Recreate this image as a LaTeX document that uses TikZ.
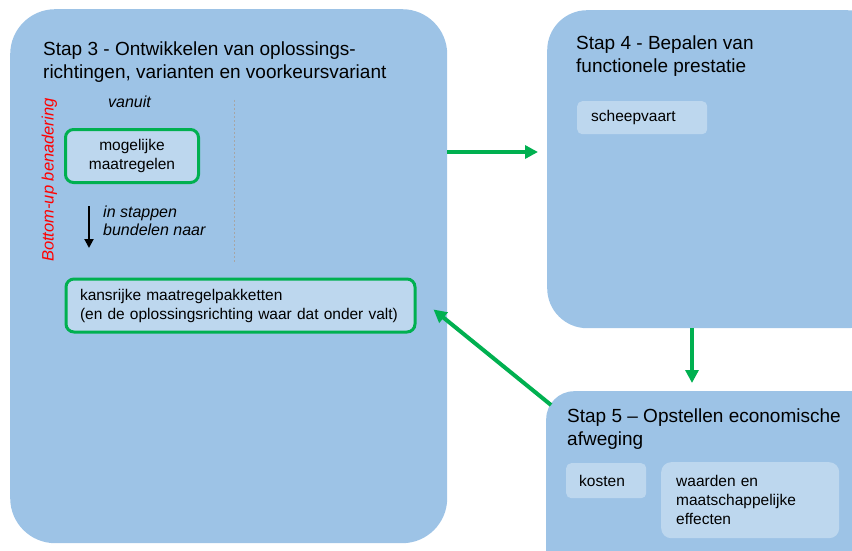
\documentclass[tikz,border=0pt]{standalone}
\usepackage{fontspec}
\setmainfont{Liberation Sans}
\usetikzlibrary{arrows.meta,calc}
\definecolor{bigblue}{HTML}{9DC3E6}
\definecolor{lightblue}{HTML}{BDD7EE}
\definecolor{ggreen}{HTML}{00B050}
\definecolor{dashgray}{HTML}{A6A6A6}
\tikzset{
  bigbox/.style={fill=bigblue, anchor=north west, inner sep=0pt},
  titletext/.style={anchor=north west, inner sep=0pt, align=left, font=\fontsize{19}{22.5}\selectfont},
  innertext/.style={font=\fontsize{15.5}{19}\selectfont},
  lightbox/.style={fill=lightblue, rounded corners=5pt, anchor=north west, inner ysep=0pt, align=left, innertext},
  greenbox/.style={draw=ggreen, line width=3pt, fill=lightblue, rounded corners=8pt, innertext},
  italictext/.style={font=\fontsize{16}{18.5}\selectfont\itshape, inner sep=0pt, align=left},
  garrow/.style={draw=ggreen, line width=4pt, -{Triangle[length=13pt,width=13pt]}},
  karrow/.style={draw=black, line width=2pt, -{Triangle[length=9pt,width=9pt]}}
}
\begin{document}
\begin{tikzpicture}[x=1pt,y=-1pt]
\useasboundingbox (0,0) rectangle (852,551);
\clip (0,0) rectangle (852,551);
% big boxes
\node[bigbox, rounded corners=45pt, minimum width=437pt, minimum height=534pt] (b3) at (10,9) {};
\node[bigbox, rounded corners=40pt, minimum width=340pt, minimum height=318pt] (b4) at (547,10) {};
\node[bigbox, rounded corners=28pt, minimum width=340pt, minimum height=200pt] (b5) at (546,391) {};
% titles
\node[titletext] (t3) at (43,42) {Stap 3 - Ontwikkelen van oplossings-\\richtingen, varianten en voorkeursvariant};
\node[titletext] (t4) at (576,36) {Stap 4 - Bepalen van\\functionele prestatie};
\node[titletext] (t5) at (567,409) {Stap 5 -- Opstellen economische\\afweging};
% stap 4 content
\node[lightbox, minimum width=130pt, minimum height=33pt, text width=102pt, inner xsep=14pt] (sp) at (577,101) {scheepvaart};
% stap 5 content
\node[lightbox, minimum width=80pt, minimum height=35pt, text width=54pt, inner xsep=13pt] (ko) at (566,463) {kosten};
\node[lightbox, rounded corners=10pt, minimum width=178pt, minimum height=76pt, text width=148pt, inner xsep=15pt] (wa) at (661,462) {waarden en\\maatschappelijke\\effecten};
% stap 3 content
\node[italictext, anchor=base west] (va) at (108,107) {vanuit};
\node[greenbox, align=center, minimum width=133pt, minimum height=53pt] (mm) at (132,156) {mogelijke\\maatregelen};
\coordinate (ka) at (89,206);
\coordinate (kb) at (89,248);
\draw[karrow] (ka) -- (kb);
\node[italictext, anchor=north west] (is) at (103,205.5) {in stappen\\bundelen naar};
\node[greenbox, anchor=north west, align=left, minimum height=53pt, text width=321pt, inner xsep=14pt] (kr) at (64.5,277.5) {kansrijke maatregelpakketten\\(en de oplossingsrichting waar dat onder valt)};
\node[font=\fontsize{16.5}{18}\selectfont\itshape, text=red, rotate=90, anchor=base west, inner sep=0pt] (bu) at (53.5,262) {Bottom-up benadering};
\coordinate (da) at (234.5,100);
\coordinate (db) at (234.5,263);
\draw[dashgray, line width=1pt, dash pattern=on 2pt off 2pt] (da) -- (db);
% green arrows
\draw[garrow] ([yshift=-143pt]b3.north east) -- ([yshift=-142pt,xshift=-9pt]b4.north west);
\draw[garrow] ([xshift=145pt]b4.south west) -- ([xshift=146pt,yshift=8pt]b5.north west);
\draw[garrow] ([xshift=5pt,yshift=-14pt]b5.north west) -- ([xshift=17pt,yshift=-4pt]kr.east);
\end{tikzpicture}
\end{document}
